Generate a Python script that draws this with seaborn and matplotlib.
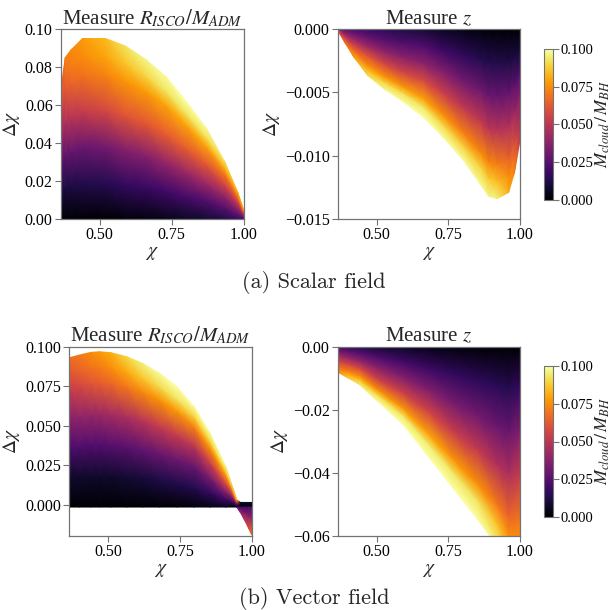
import numpy as np
import matplotlib
matplotlib.use("Agg")
import matplotlib.pyplot as plt
import seaborn as sns

sns.set_style("ticks")
plt.rcParams["font.family"] = ["Liberation Serif", "DejaVu Serif"]
plt.rcParams["mathtext.fontset"] = "stix"
plt.rcParams["axes.edgecolor"] = "0.45"
plt.rcParams["xtick.color"] = "0.45"
plt.rcParams["ytick.color"] = "0.45"
plt.rcParams["xtick.labelcolor"] = "black"
plt.rcParams["ytick.labelcolor"] = "black"

# fraction of the way from the base line (delta chi = 0) to the edge of the cloud
levels = [0.0, 0.2, 0.4, 0.6, 0.8, 0.9, 1.0]

# (a) scalar field, measure R_ISCO / M_ADM : chi, upper edge, M_cloud/M_BH per level
sc_r_chi = [0.366, 0.38, 0.40, 0.44, 0.52, 0.59, 0.66, 0.73, 0.80, 0.87, 0.935, 0.98, 1.0]
sc_r_edge = [0.070, 0.085, 0.089, 0.095, 0.095, 0.091, 0.084, 0.075, 0.062, 0.048, 0.030, 0.014, 0.005]
sc_r_mass = [
    [0.000, 0.011, 0.024, 0.038, 0.052, 0.058, 0.062],
    [0.000, 0.012, 0.028, 0.047, 0.062, 0.068, 0.072],
    [0.000, 0.012, 0.029, 0.049, 0.065, 0.071, 0.074],
    [0.000, 0.013, 0.030, 0.053, 0.069, 0.075, 0.078],
    [0.000, 0.014, 0.032, 0.057, 0.073, 0.080, 0.084],
    [0.002, 0.017, 0.036, 0.061, 0.077, 0.086, 0.093],
    [0.003, 0.018, 0.037, 0.062, 0.078, 0.090, 0.097],
    [0.005, 0.020, 0.041, 0.064, 0.080, 0.093, 0.099],
    [0.007, 0.022, 0.042, 0.063, 0.080, 0.093, 0.100],
    [0.009, 0.024, 0.043, 0.062, 0.080, 0.092, 0.099],
    [0.013, 0.026, 0.040, 0.056, 0.072, 0.083, 0.092],
    [0.018, 0.028, 0.040, 0.052, 0.066, 0.074, 0.082],
    [0.020, 0.029, 0.040, 0.052, 0.064, 0.072, 0.080],
]

# (a) scalar field, measure z : chi, lower edge
sc_z_chi = [0.367, 0.39, 0.42, 0.47, 0.53, 0.59, 0.66, 0.73, 0.80, 0.86, 0.89, 0.92, 0.96, 0.98, 1.0]
sc_z_edge = [-0.0002, -0.0011, -0.0022, -0.0037, -0.0048, -0.0057, -0.0069, -0.0085,
             -0.0103, -0.0122, -0.0132, -0.0134, -0.0129, -0.0114, -0.0088]
sc_z_mass = [
    [0.030, 0.035, 0.040, 0.045, 0.050, 0.055, 0.060],
    [0.025, 0.032, 0.040, 0.050, 0.060, 0.064, 0.068],
    [0.022, 0.031, 0.043, 0.056, 0.068, 0.074, 0.078],
    [0.018, 0.029, 0.044, 0.062, 0.076, 0.084, 0.092],
    [0.015, 0.026, 0.040, 0.058, 0.077, 0.090, 0.098],
    [0.012, 0.024, 0.038, 0.056, 0.077, 0.092, 0.099],
    [0.010, 0.024, 0.039, 0.059, 0.080, 0.094, 0.100],
    [0.006, 0.019, 0.036, 0.055, 0.076, 0.091, 0.099],
    [0.004, 0.016, 0.032, 0.051, 0.073, 0.089, 0.099],
    [0.002, 0.014, 0.032, 0.052, 0.075, 0.090, 0.098],
    [0.001, 0.013, 0.030, 0.050, 0.074, 0.088, 0.097],
    [0.000, 0.013, 0.029, 0.049, 0.072, 0.085, 0.096],
    [0.000, 0.012, 0.029, 0.047, 0.066, 0.075, 0.082],
    [0.000, 0.011, 0.027, 0.044, 0.060, 0.068, 0.074],
    [0.000, 0.010, 0.023, 0.034, 0.042, 0.046, 0.050],
]

# (b) vector field, measure R_ISCO / M_ADM : base sits just below zero (black band)
vc_r_base = -0.0013
vc_r_chi = [0.365, 0.40, 0.44, 0.47, 0.51, 0.565, 0.62, 0.68, 0.74, 0.80, 0.855, 0.91, 0.948, 0.96, 1.0]
vc_r_edge = [0.093, 0.0947, 0.0964, 0.0968, 0.0962, 0.0937, 0.0895, 0.0832, 0.0747, 0.0621,
             0.0453, 0.0242, 0.0032, 0.0016, 0.0016]
vc_r_mass = [
    [0.000, 0.008, 0.023, 0.038, 0.054, 0.062, 0.068],
    [0.000, 0.008, 0.024, 0.040, 0.057, 0.065, 0.070],
    [0.000, 0.008, 0.024, 0.041, 0.061, 0.069, 0.075],
    [0.000, 0.008, 0.024, 0.042, 0.063, 0.071, 0.078],
    [0.000, 0.008, 0.025, 0.044, 0.066, 0.075, 0.082],
    [0.000, 0.009, 0.026, 0.046, 0.070, 0.081, 0.090],
    [0.000, 0.010, 0.028, 0.049, 0.074, 0.087, 0.096],
    [0.000, 0.012, 0.030, 0.052, 0.076, 0.091, 0.099],
    [0.001, 0.013, 0.031, 0.053, 0.078, 0.093, 0.100],
    [0.002, 0.014, 0.029, 0.049, 0.073, 0.089, 0.100],
    [0.004, 0.017, 0.034, 0.054, 0.076, 0.090, 0.099],
    [0.006, 0.021, 0.040, 0.060, 0.079, 0.090, 0.098],
    [0.000, 0.010, 0.025, 0.045, 0.065, 0.075, 0.080],
    [0.000, 0.000, 0.000, 0.003, 0.005, 0.006, 0.008],
    [0.000, 0.000, 0.000, 0.003, 0.005, 0.006, 0.008],
]
# tail of the vector R_ISCO cloud below the axis near chi = 1
tail_levels = [0.0, 0.5, 1.0]
vc_tail_chi = [0.948, 0.96, 0.975, 0.99, 1.0]
vc_tail_edge = [-0.0013, -0.0045, -0.0095, -0.0150, -0.0190]
vc_tail_mass = [
    [0.020, 0.025, 0.030],
    [0.020, 0.030, 0.040],
    [0.020, 0.035, 0.050],
    [0.020, 0.040, 0.060],
    [0.020, 0.045, 0.072],
]

# (b) vector field, measure z : lower edge runs past the axis limit
vc_z_chi = [0.365, 0.40, 0.44, 0.50, 0.59, 0.68, 0.77, 0.85, 0.92, 0.96, 1.0]
vc_z_edge = [-0.0081, -0.0099, -0.012, -0.017, -0.0245, -0.0348, -0.0453, -0.0545, -0.063, -0.067, -0.070]
vc_z_mass = [
    [0.022, 0.032, 0.045, 0.057, 0.067, 0.072, 0.076],
    [0.018, 0.029, 0.043, 0.059, 0.073, 0.081, 0.088],
    [0.014, 0.026, 0.041, 0.059, 0.077, 0.087, 0.095],
    [0.010, 0.024, 0.038, 0.055, 0.076, 0.091, 0.099],
    [0.007, 0.021, 0.036, 0.055, 0.078, 0.094, 0.100],
    [0.004, 0.019, 0.036, 0.057, 0.080, 0.095, 0.100],
    [0.002, 0.017, 0.033, 0.053, 0.077, 0.094, 0.100],
    [0.001, 0.016, 0.032, 0.052, 0.076, 0.093, 0.100],
    [0.000, 0.015, 0.030, 0.048, 0.071, 0.086, 0.096],
    [0.000, 0.014, 0.029, 0.046, 0.065, 0.076, 0.085],
    [0.000, 0.018, 0.036, 0.054, 0.071, 0.077, 0.081],
]

cmap = sns.color_palette("inferno", as_cmap=True)


def draw_cloud(ax, chi, edge, mass, lev, base=0.0):
    chi = np.asarray(chi)
    edge = np.asarray(edge)
    lev = np.asarray(lev)[:, None]
    X = np.tile(chi, (lev.shape[0], 1))
    Y = base + lev * (edge - base)
    C = np.asarray(mass).T
    return ax.pcolormesh(X, Y, C, shading="gouraud", cmap=cmap, vmin=0, vmax=0.1,
                         rasterized=True)


fig = plt.figure(figsize=(6.11, 6.10), dpi=100)
W, H = 611, 610


def px_axes(x0, y0, x1, y1):
    return fig.add_axes([x0 / W, 1 - y1 / H, (x1 - x0) / W, (y1 - y0) / H])


ax_a1 = px_axes(61, 29, 243.5, 219)
ax_a2 = px_axes(338, 29, 520, 219)
cax_a = px_axes(544, 49, 553, 200)
ax_b1 = px_axes(69.3, 346.7, 251.7, 536)
ax_b2 = px_axes(338, 346.7, 520, 536)
cax_b = px_axes(544, 366, 553, 517)

m = draw_cloud(ax_a1, sc_r_chi, sc_r_edge, sc_r_mass, levels)
draw_cloud(ax_a2, sc_z_chi, sc_z_edge, sc_z_mass, levels)
draw_cloud(ax_b1, vc_r_chi, vc_r_edge, vc_r_mass, levels, base=vc_r_base)
draw_cloud(ax_b1, vc_tail_chi, vc_tail_edge, vc_tail_mass, tail_levels, base=vc_r_base)
draw_cloud(ax_b2, vc_z_chi, vc_z_edge, vc_z_mass, levels)

title_r = r"Measure $R_{ISCO}/M_{ADM}$"
title_z = r"Measure $z$"
setups = [
    (ax_a1, title_r, (0.0, 0.1), [0.0, 0.02, 0.04, 0.06, 0.08, 0.10]),
    (ax_a2, title_z, (-0.015, 0.0), [-0.015, -0.010, -0.005, 0.0]),
    (ax_b1, title_r, (-0.0196, 0.1), [0.0, 0.025, 0.05, 0.075, 0.1]),
    (ax_b2, title_z, (-0.06, 0.0), [-0.06, -0.04, -0.02, 0.0]),
]
for ax, title, ylim, yticks in setups:
    ax.set_xlim(0.365, 1.0)
    ax.set_ylim(*ylim)
    ax.set_xticks([0.5, 0.75, 1.0])
    ax.set_yticks(yticks)
    ax.set_title(title, fontsize=15, pad=2)
    ax.set_xlabel(r"$\chi$", fontsize=14, labelpad=1)
    ax.set_ylabel(r"$\Delta\chi$", fontsize=14, labelpad=2)
    ax.tick_params(labelsize=11.5, length=4, width=0.8, pad=2)
    for s in ax.spines.values():
        s.set_linewidth(0.9)

for cax in (cax_a, cax_b):
    cb = fig.colorbar(m, cax=cax, ticks=[0.0, 0.025, 0.05, 0.075, 0.1], format="%.3f")
    cb.outline.set_edgecolor("0.45")
    cb.ax.tick_params(labelsize=10.5, length=4, width=0.8, pad=1.5)
    cb.set_label(r"$M_{cloud}\,/\,M_{BH}$", fontsize=13, labelpad=0)

fig.text(314 / W, 1 - 282 / H, "(a) Scalar field", family="cmr10", fontsize=16,
         ha="center", va="center")
fig.text(314 / W, 1 - 599 / H, "(b) Vector field", family="cmr10", fontsize=16,
         ha="center", va="center")

fig.savefig("out.png", dpi=100)
